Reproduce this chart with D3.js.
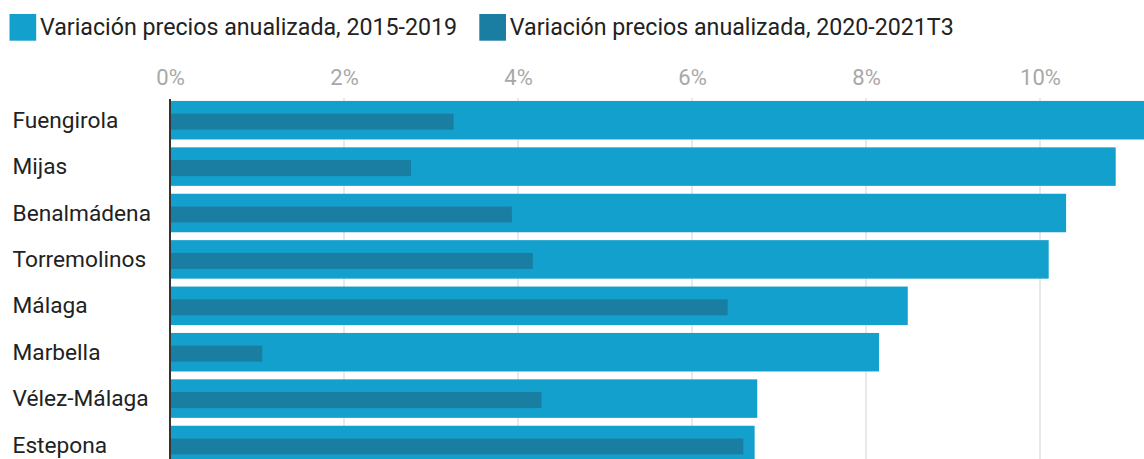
<!DOCTYPE html>
<html>
<head>
<meta charset="utf-8">
<script src="https://cdn.jsdelivr.net/npm/d3@7"></script>
<style>
  html, body { margin: 0; padding: 0; background: #fff; }
  svg { display: block; font-family: Roboto, "Noto Sans", sans-serif; }
</style>
</head>
<body>
<div id="chart"></div>
<script>
let categories = ["Fuengirola", "Mijas", "Benalmádena", "Torremolinos", "Málaga", "Marbella", "Vélez-Málaga", "Estepona"];
let precios2015 = [11.4, 10.87, 10.3, 10.1, 8.48, 8.15, 6.75, 6.72];
let precios2020 = [3.26, 2.77, 3.93, 4.17, 6.41, 1.06, 4.27, 6.59];
let seriesNames = ["Variación precios anualizada, 2015-2019", "Variación precios anualizada, 2020-2021T3"];
let tickValues = [0, 2, 4, 6, 8, 10];

let width = 1144;
let height = 459;
let colors = ["#14a0cc", "#1a7ea3"];

let svg = d3.select("#chart").append("svg")
	.attr("width", width)
	.attr("height", height);

let data = categories.map(function(c, i) { return { name: c, a: precios2015[i], b: precios2020[i] }; });

let x = d3.scaleLinear()
	.domain([0, 10])
	.range([170, 1040]);

let y = d3.scaleBand()
	.domain(categories)
	.range([97, 468.2])
	.paddingInner(0.17)
	.paddingOuter(0.085);

// legend
let legend = svg.append("g").attr("class", "legend");
let lx = [9.5, 479.3];
seriesNames.forEach(function(name, i) {
	let g = legend.append("g").attr("transform", "translate(" + lx[i] + ",14)");
	g.append("rect")
		.attr("width", 26.7)
		.attr("height", 26.7)
		.attr("fill", colors[i]);
	g.append("text")
		.attr("x", 30.5)
		.attr("y", 21)
		.attr("font-size", 23.2)
		.attr("fill", "#222")
		.text(name);
});

// grid lines
svg.append("g")
	.attr("class", "grid")
	.selectAll("line")
	.data(tickValues.slice(1))
	.enter().append("line")
	.attr("x1", d => x(d))
	.attr("x2", d => x(d))
	.attr("y1", 98)
	.attr("y2", height)
	.attr("stroke", "#e2e2e2")
	.attr("stroke-width", 1.5);

// top axis with percent labels
let xAxis = d3.axisTop(x)
	.tickValues(tickValues)
	.tickSize(0)
	.tickFormat(d => d + "%");

svg.append("g")
	.attr("class", "x axis")
	.attr("transform", "translate(0,85)")
	.call(xAxis)
	.call(g => g.select(".domain").remove())
	.call(g => g.selectAll(".tick text")
		.attr("fill", "#a8a8a8")
		.attr("font-size", 22)
		.attr("font-family", "Roboto, sans-serif")
		.attr("y", 0)
		.attr("dy", 0));

// bars
svg.append("g").selectAll("rect")
	.data(data)
	.enter().append("rect")
	.attr("x", x(0))
	.attr("y", d => y(d.name))
	.attr("width", d => x(d.a) - x(0))
	.attr("height", y.bandwidth())
	.attr("fill", colors[0]);

svg.append("g").selectAll("rect")
	.data(data)
	.enter().append("rect")
	.attr("x", x(0))
	.attr("y", d => y(d.name) + y.bandwidth() / 2 - 6.5)
	.attr("width", d => x(d.b) - x(0))
	.attr("height", 16)
	.attr("fill", colors[1]);

// category labels
let yAxis = d3.axisLeft(y).tickSize(0);
svg.append("g")
	.attr("class", "y axis")
	.attr("transform", "translate(" + x(0) + ",0)")
	.call(yAxis)
	.call(g => g.select(".domain").remove())
	.call(g => g.selectAll(".tick text")
		.attr("x", 12.5 - x(0))
		.attr("dy", 7.5)
		.attr("text-anchor", "start")
		.attr("fill", "#222")
		.attr("font-size", 22.7)
		.attr("font-family", "Roboto, sans-serif"));

// zero line
svg.append("line")
	.attr("x1", x(0))
	.attr("x2", x(0))
	.attr("y1", 99)
	.attr("y2", height)
	.attr("stroke", "#333")
	.attr("stroke-width", 2);
</script>
</body>
</html>
